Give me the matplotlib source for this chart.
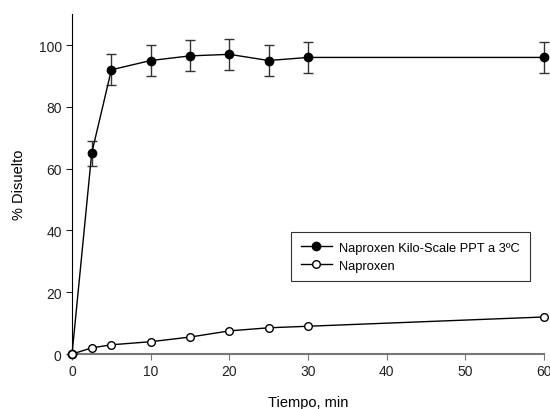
import matplotlib
matplotlib.use('Agg')
import matplotlib.pyplot as plt
from matplotlib.lines import Line2D

plt.rcParams['font.family'] = ['Liberation Sans', 'DejaVu Sans']

# dissolution data
time_min = [0, 2.5, 5, 10, 15, 20, 25, 30, 60]
kilo_scale = [0, 65, 92, 95, 96.5, 97, 95, 96, 96]
kilo_err = [0, 4, 5, 5, 5, 5, 5, 5, 5]
naproxen = [0, 2, 3, 4, 5.5, 7.5, 8.5, 9, 12]

fig = plt.figure(figsize=(5.5, 4.1), dpi=100)
ax = fig.add_axes([0.131, 0.134, 0.858, 0.829])

ax.errorbar(time_min, kilo_scale, yerr=kilo_err, color='black', ecolor='#333333',
            elinewidth=1, capsize=3.5, capthick=1, lw=1, marker='o', ms=6,
            mfc='black', mec='black', clip_on=False, zorder=3)
ax.plot(time_min, naproxen, color='black', lw=1, marker='o', ms=5.5,
        mfc='white', mec='black', mew=1, clip_on=False, zorder=4)

ax.set_xlim(0, 60)
ax.set_ylim(0, 110)
ax.set_xticks([0, 10, 20, 30, 40, 50, 60])
ax.set_yticks([0, 20, 40, 60, 80, 100])
ax.spines['top'].set_visible(False)
ax.spines['right'].set_visible(False)
ax.spines['bottom'].set_color('#777777')
ax.spines['bottom'].set_linewidth(1.5)
ax.tick_params(direction='out', length=4, labelsize=10, colors='#222222')
ax.tick_params(axis='x', color='#777777')

ax.set_xlabel('Tiempo, min', fontsize=10.5, labelpad=12)
ax.set_ylabel('% Disuelto', fontsize=10.5, labelpad=9)

handles = [
    Line2D([], [], color='black', lw=1, marker='o', ms=6, mfc='black', mec='black'),
    Line2D([], [], color='black', lw=1, marker='o', ms=5.5, mfc='white', mec='black'),
]
labels = ['Naproxen Kilo-Scale PPT a 3ºC', 'Naproxen']
leg = ax.legend(handles, labels, loc='upper left', bbox_to_anchor=(0.464, 0.359),
                borderaxespad=0, fontsize=9.3, frameon=True, fancybox=False,
                edgecolor='black', handlelength=2.4, borderpad=0.75,
                labelspacing=0.45, handletextpad=0.6)
leg.get_frame().set_linewidth(0.8)

fig.savefig('out.png', dpi=100)
